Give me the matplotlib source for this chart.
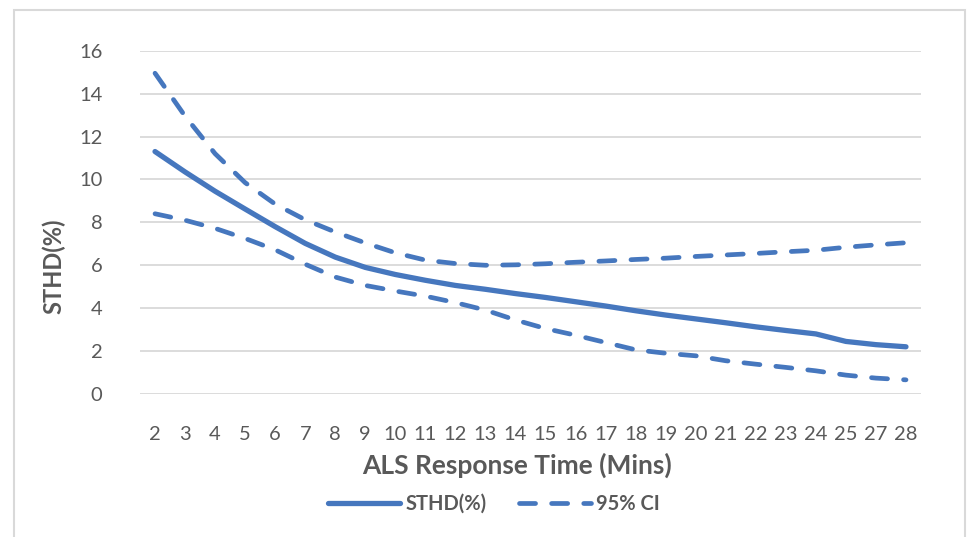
# STHD vs ALS response time, with 95% CI band

import matplotlib
matplotlib.use("Agg")
import matplotlib.pyplot as plt
from matplotlib.patches import Rectangle

plt.rcParams["font.family"] = ["Lato", "DejaVu Sans"]

# Data
minutes = ["2", "3", "4", "5", "6", "7", "8", "9", "10", "11", "12", "13", "14",
           "15", "16", "17", "18", "19", "20", "21", "22", "23", "24", "25", "27", "28"]
sthd = [11.3, 10.35, 9.45, 8.62, 7.8, 7.02, 6.38, 5.9, 5.57, 5.3, 5.06, 4.88, 4.68,
        4.5, 4.3, 4.1, 3.88, 3.68, 3.5, 3.32, 3.13, 2.96, 2.8, 2.45, 2.3, 2.2]
ci_upper = [14.95, 12.95, 11.2, 9.85, 8.85, 8.12, 7.55, 7.04, 6.58, 6.24, 6.08, 6.0, 6.02,
            6.07, 6.14, 6.2, 6.27, 6.33, 6.41, 6.48, 6.55, 6.63, 6.7, 6.84, 6.95, 7.05]
ci_lower = [8.4, 8.1, 7.72, 7.25, 6.72, 6.05, 5.45, 5.06, 4.8, 4.56, 4.26, 3.91, 3.45,
            3.05, 2.74, 2.4, 2.06, 1.9, 1.78, 1.55, 1.39, 1.24, 1.08, 0.88, 0.74, 0.66]

W, H = 972, 537
blue = "#4677BE"
grey_txt = "#595959"

fig = plt.figure(figsize=(W / 100, H / 100), dpi=100)
ax = fig.add_axes([140 / W, 1 - 394 / H, 781 / W, (394 - 50.7) / H])

x = list(range(len(minutes)))
ax.plot(x, sthd, color=blue, lw=3.8, solid_capstyle="round",
        solid_joinstyle="round", label="STHD(%)")
ax.plot(x, ci_upper, color=blue, lw=3.4, dashes=(3.4, 3.4),
        dash_capstyle="round", label="95% CI")
ax.plot(x, ci_lower, color=blue, lw=3.4, dashes=(3.4, 3.4),
        dash_capstyle="round")

ax.set_xlim(-0.5, len(minutes) - 0.5)
ax.set_ylim(0, 16)
ax.set_yticks(range(0, 17, 2))
ax.set_xticks(x)
ax.set_xticklabels(minutes)
ax.tick_params(axis="both", length=0, labelsize=14.5, labelcolor=grey_txt)
ax.tick_params(axis="y", pad=27)
ax.tick_params(axis="x", pad=23)
ax.grid(axis="y", color="#D9D9D9", lw=1.3)
ax.set_axisbelow(True)
for s in ax.spines.values():
    s.set_visible(False)

fig.text(54 / W, 1 - 266 / H, "STHD(%)", rotation=90, ha="center", va="center",
         fontsize=17, fontweight="bold", color=grey_txt)
fig.text(517 / W, 1 - 465 / H, "ALS Response Time (Mins)", ha="center", va="center",
         fontsize=19, fontweight="bold", color=grey_txt)

leg = fig.legend(loc="center", bbox_to_anchor=(494 / W, 1 - 504 / H), ncol=2,
                 frameon=False, fontsize=14.5, handlelength=3.6, handletextpad=0.25,
                 columnspacing=1.6)
for t in leg.get_texts():
    t.set_fontweight("bold")
    t.set_color(grey_txt)

# light outer border of the chart area
fig.patches.append(Rectangle((14 / W, -0.05), (965 - 14) / W, 1.05 - 10 / H,
                             transform=fig.transFigure, fill=False,
                             edgecolor="#D9D9D9", lw=1.5))

fig.savefig("out.png", dpi=100)
